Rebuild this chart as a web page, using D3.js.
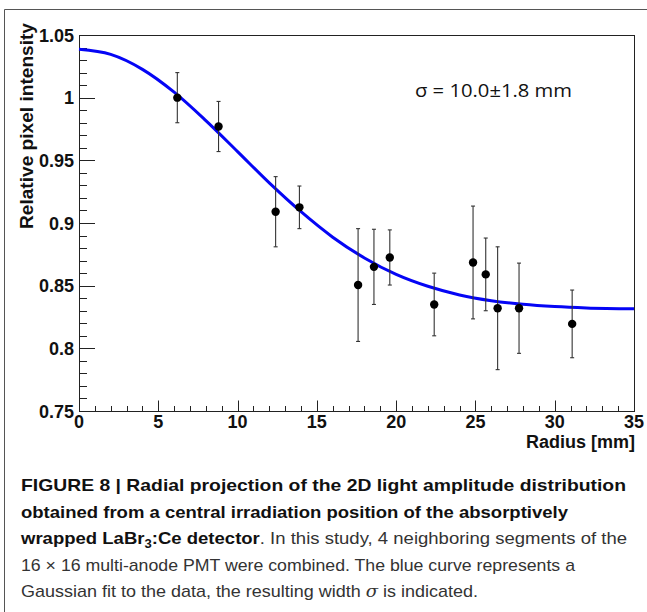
<!DOCTYPE html>
<html><head><meta charset="utf-8">
<script src="https://cdn.jsdelivr.net/npm/d3@7"></script>
<style>
html,body{margin:0;padding:0;background:#fff;}
svg{display:block;}
</style></head>
<body>
<svg id="chart" width="647" height="612"></svg>
<script>
// ---- data ----
const radius    = [6.2, 8.8, 12.4, 13.9, 17.6, 18.6, 19.6, 22.4, 24.85, 25.65, 26.4, 27.75, 31.1];
const intensity = [1.000, 0.977, 0.909, 0.9125, 0.8505, 0.865, 0.8725, 0.835, 0.8685, 0.859, 0.832, 0.832, 0.8195];
const errors    = [0.020, 0.020, 0.028, 0.017, 0.045, 0.030, 0.022, 0.025, 0.045, 0.029, 0.049, 0.036, 0.027];
const fitX = [0, 2, 4, 6, 8, 10, 12, 14, 16, 18, 20, 22, 24, 26, 28, 30, 32, 35];
const fitY = [1.0386, 1.0345, 1.0226, 1.0044, 0.9817, 0.957, 0.932, 0.909, 0.8887, 0.8721, 0.859, 0.8495, 0.8426, 0.838, 0.8351, 0.8333, 0.8322, 0.8315];
const xTickLabels = ["0", "5", "10", "15", "20", "25", "30", "35"];
const yTickLabels = ["0.75", "0.8", "0.85", "0.9", "0.95", "1", "1.05"];
const xTitle = "Radius [mm]";
const yTitle = "Relative pixel intensity";
const annotation = "σ = 10.0±1.8 mm";

const svg = d3.select("#chart");
const L = 79, R = 634, T = 35, B = 411;
const x = d3.scaleLinear().domain([0, 35]).range([L, R]);
const y = d3.scaleLinear().domain([0.75, 1.05]).range([B, T]);

// outer figure border
svg.append("path").attr("d", `M4.5,640 V9.5 H660`).attr("fill", "none").attr("stroke", "#555").attr("stroke-width", 1);

const axisCol = "#222";
// plot frame
svg.append("rect").attr("x", L + 0.5).attr("y", T + 0.5).attr("width", R - L).attr("height", B - T)
  .attr("fill", "none").attr("stroke", axisCol).attr("stroke-width", 1);

// x axis ticks
const xMinor = d3.range(0, 35.001, 1);
svg.append("g").selectAll("line").data(xMinor).join("line")
  .attr("x1", d => Math.round(x(d)) + 0.5).attr("x2", d => Math.round(x(d)) + 0.5)
  .attr("y1", B + 0.5).attr("y2", d => B + 0.5 - (d % 5 === 0 ? 11 : 5.5))
  .attr("stroke", axisCol).attr("stroke-width", 1);
svg.append("g").selectAll("text").data(xTickLabels).join("text")
  .attr("x", d => x(+d)).attr("y", 428).attr("text-anchor", "middle")
  .attr("font-family", "Liberation Sans, Arial, sans-serif").attr("font-weight", "bold").attr("font-size", 18)
  .attr("fill", "#111").text(d => d);

// y axis ticks
const yMinor = d3.range(0, 31).map(i => 0.75 + i * 0.01);
svg.append("g").selectAll("line").data(yMinor).join("line")
  .attr("y1", d => Math.round(y(d)) + 0.5).attr("y2", d => Math.round(y(d)) + 0.5)
  .attr("x1", L + 0.5).attr("x2", (d, i) => L + 0.5 + (i % 5 === 0 ? 15.5 : 7.5))
  .attr("stroke", axisCol).attr("stroke-width", 1);
svg.append("g").selectAll("text").data(yTickLabels).join("text")
  .attr("x", 74).attr("y", d => y(+d) + 6.5).attr("text-anchor", "end")
  .attr("font-family", "Liberation Sans, Arial, sans-serif").attr("font-weight", "bold").attr("font-size", 18)
  .attr("fill", "#111").text(d => d);

// axis titles
svg.append("text").attr("x", 635).attr("y", 448).attr("text-anchor", "end")
  .attr("font-family", "Liberation Sans, Arial, sans-serif").attr("font-weight", "bold").attr("font-size", 18)
  .attr("fill", "#111").text(xTitle);
svg.append("text").attr("transform", "translate(33,23) rotate(-90)").attr("text-anchor", "end")
  .attr("textLength", 206).attr("lengthAdjust", "spacingAndGlyphs")
  .attr("font-family", "Liberation Sans, Arial, sans-serif").attr("font-weight", "bold").attr("font-size", 18.5)
  .attr("fill", "#111").text(yTitle);

// fit curve
const line = d3.line().x((d, i) => x(fitX[i])).y(d => y(d)).curve(d3.curveMonotoneX);
svg.append("path").attr("d", line(fitY)).attr("fill", "none").attr("stroke", "#0505f5").attr("stroke-width", 3);

// error bars
const eb = svg.append("g").attr("stroke", "#333").attr("stroke-width", 1.1);
radius.forEach((r, i) => {
  const cx = x(r), yt = y(intensity[i] + errors[i]), yb = y(intensity[i] - errors[i]);
  eb.append("line").attr("x1", cx).attr("x2", cx).attr("y1", yt).attr("y2", yb);
  eb.append("line").attr("x1", cx - 2).attr("x2", cx + 2).attr("y1", yt).attr("y2", yt);
  eb.append("line").attr("x1", cx - 2).attr("x2", cx + 2).attr("y1", yb).attr("y2", yb);
});
// markers
svg.append("g").selectAll("circle").data(radius).join("circle")
  .attr("cx", d => x(d)).attr("cy", (d, i) => y(intensity[i])).attr("r", 4.2).attr("fill", "#000");

// annotation
svg.append("text").attr("x", 415).attr("y", 97).attr("textLength", 157).attr("lengthAdjust", "spacingAndGlyphs")
  .attr("font-family", "Open Sans, sans-serif").attr("font-size", 17.5).attr("fill", "#111").text(annotation);

// caption
const cap = svg.append("g").attr("font-family", "Liberation Sans, Arial, sans-serif").attr("font-size", 17).attr("fill", "#222");
const capX = 21;
const lines = [
  {y: 491, w: 605, parts: [{t: "FIGURE 8 | Radial projection of the 2D light amplitude distribution", b: true}]},
  {y: 517.5, w: 547, parts: [{t: "obtained from a central irradiation position of the absorptively", b: true}]},
  {y: 544, w: 606, parts: [{t: "wrapped LaBr", b: true}, {t: "3", b: true, sub: true}, {t: ":Ce detector", b: true}, {t: ". In this study, 4 neighboring segments of the", b: false}]},
  {y: 570.5, w: 554, parts: [{t: "16 × 16 multi-anode PMT were combined. The blue curve represents a", b: false}]},
  {y: 597, w: 457, parts: [{t: "Gaussian fit to the data, the resulting width ", b: false}, {t: "σ", b: false, it: true}, {t: " is indicated.", b: false}]}
];
lines.forEach(ln => {
  const t = cap.append("text").attr("x", capX).attr("y", ln.y).attr("textLength", ln.w).attr("lengthAdjust", "spacingAndGlyphs");
  ln.parts.forEach((p, k) => {
    const s = t.append("tspan").text(p.t)
      .attr("font-weight", p.b ? "bold" : "normal")
      .attr("fill", p.b ? "#111" : "#333");
    if (p.sub) s.attr("font-size", 12).attr("dy", 4);
    if (p.it) s.attr("font-style", "italic").attr("font-family", "DejaVu Serif, serif");
    if (k > 0 && ln.parts[k - 1].sub) s.attr("dy", -4);
  });
});
</script>
</body></html>
